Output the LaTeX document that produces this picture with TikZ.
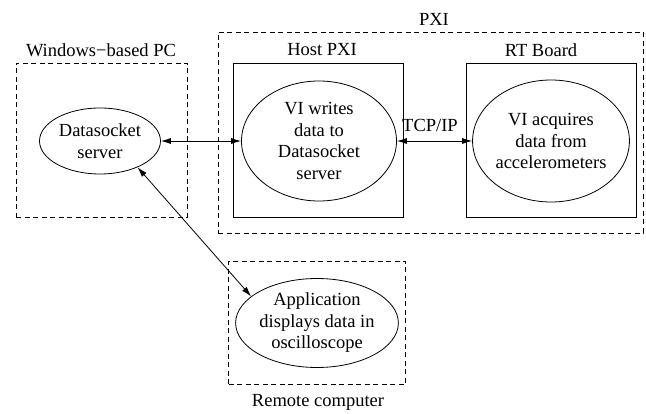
\documentclass[tikz,border=0pt]{standalone}
\usepackage{fontspec}
\setmainfont{Liberation Serif}
\usetikzlibrary{shapes.geometric,arrows.meta}

\begin{document}
\begin{tikzpicture}[x=1pt,y=-1pt]
    \tikzstyle{group box}=[
        draw = black,
        line width = 0.8pt,
        dash pattern = on 5pt off 3.5pt,
        rectangle,
        inner sep = 0pt
    ]
    \tikzstyle{board box}=[
        draw = black,
        line width = 0.8pt,
        rectangle,
        inner sep = 0pt
    ]
    \tikzstyle{task}=[
        draw = black,
        line width = 0.8pt,
        ellipse,
        inner sep = 0pt,
        align = center,
        font = \fontsize{18.5}{21.5}\selectfont
    ]
    \tikzstyle{caption}=[
        inner sep = 0pt,
        font = \fontsize{18.5}{21.5}\selectfont
    ]

    \useasboundingbox (0,0) rectangle (646,414);

    \node[group box, minimum width=425pt, minimum height=201pt] (pxi)    at (430.5,132.5) {};
    \node[group box, minimum width=171pt, minimum height=154pt] (pc)     at (101.5,140)   {};
    \node[board box, minimum width=170pt, minimum height=154pt] (host)   at (318.5,140)   {};
    \node[board box, minimum width=170pt, minimum height=154pt] (rt)     at (551,140)     {};
    \node[group box, minimum width=177pt, minimum height=123pt] (remote) at (317,323)     {};

    \node[caption] (pxilbl)    at (434,19)  {PXI};
    \node[caption] (pclbl)     at (101,50)  {Windows−based PC};
    \node[caption] (hostlbl)   at (322,50)  {Host PXI};
    \node[caption] (rtlbl)     at (541,50)  {RT Board};
    \node[caption] (tcplbl)    at (430,125) {TCP/IP};
    \node[caption] (remotelbl) at (318,402) {Remote computer};

    \node[task, minimum width=121pt, minimum height=66pt]  (ds)  at (100,141) {Datasocket\\server};
    \node[task, minimum width=155pt, minimum height=120pt] (vih) at (319,141) {VI writes\\data to\\Datasocket\\server};
    \node[task, minimum width=154pt, minimum height=122pt] (vir) at (551,141) {VI acquires\\data from\\accelerometers};
    \node[task, minimum width=153pt, minimum height=89pt]  (app) at (317,323) {Application\\displays data in\\oscilloscope};

    \path[{Latex[length=10pt,width=6pt]}-{Latex[length=10pt,width=6pt]}, line width=0.8pt] (ds) edge (vih);
    \path[{Latex[length=10pt,width=6pt]}-{Latex[length=10pt,width=6pt]}, line width=0.8pt] (vih) edge (vir);
    \path[{Latex[length=10pt,width=6pt]}-{Latex[length=10pt,width=6pt]}, line width=0.8pt] (ds.-35) edge (app.158);

\end{tikzpicture}
\end{document}
